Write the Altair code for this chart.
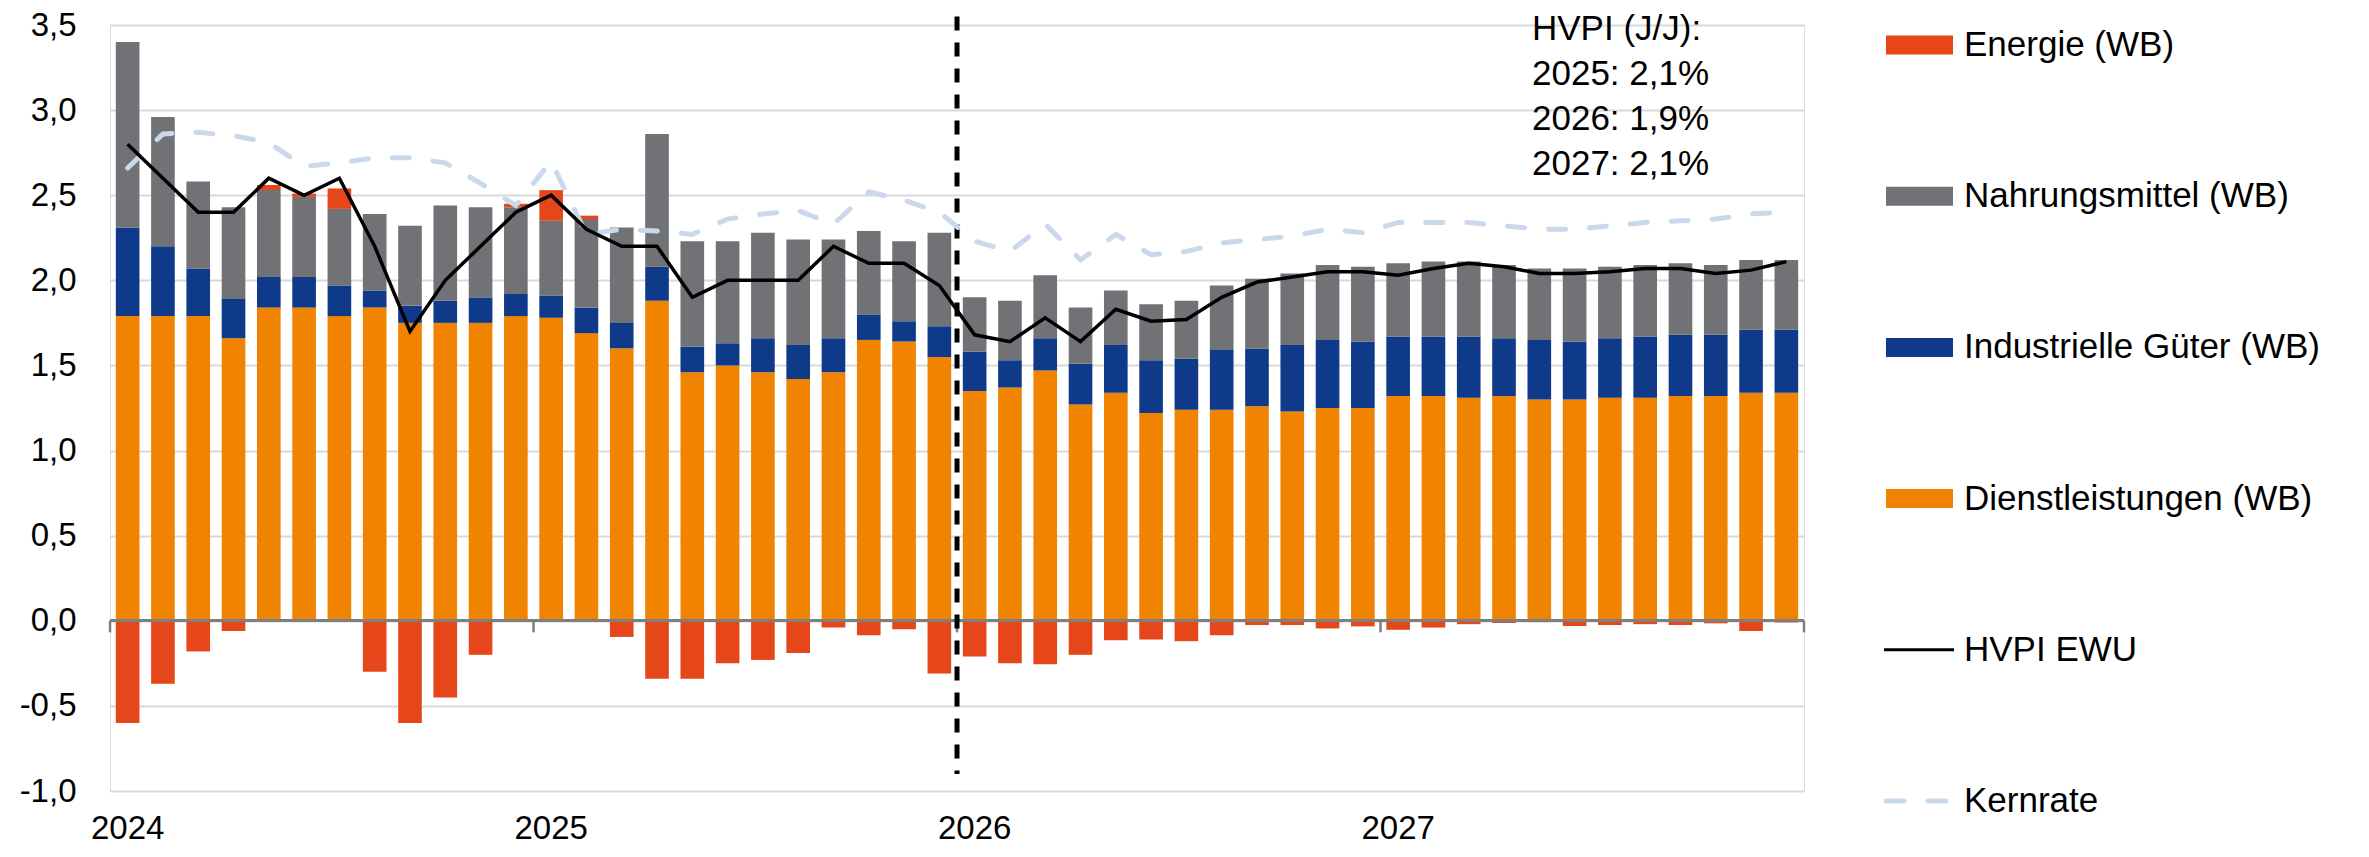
import altair as alt
import pandas as pd

FONT = "Liberation Sans"

# ---- data -----------------------------------------------------------------
months = [f"{y}-{m:02d}" for y in range(2024, 2028) for m in range(1, 13)]

dienstleistungen = [1.79, 1.79, 1.79, 1.66, 1.84, 1.84, 1.79, 1.84, 1.75, 1.75, 1.75, 1.79,
                    1.78, 1.69, 1.60, 1.88, 1.46, 1.50, 1.46, 1.42, 1.46, 1.65, 1.64, 1.55,
                    1.35, 1.37, 1.47, 1.27, 1.34, 1.22, 1.24, 1.24, 1.26, 1.23, 1.25, 1.25,
                    1.32, 1.32, 1.31, 1.32, 1.30, 1.30, 1.31, 1.31, 1.32, 1.32, 1.34, 1.34]
industrie = [0.52, 0.41, 0.28, 0.23, 0.18, 0.18, 0.18, 0.10, 0.10, 0.13, 0.15, 0.13,
             0.13, 0.15, 0.15, 0.20, 0.15, 0.13, 0.20, 0.20, 0.20, 0.15, 0.12, 0.18,
             0.23, 0.16, 0.19, 0.24, 0.28, 0.31, 0.30, 0.35, 0.34, 0.39, 0.40, 0.39,
             0.35, 0.35, 0.36, 0.34, 0.35, 0.34, 0.35, 0.36, 0.36, 0.36, 0.37, 0.37]
nahrung = [1.09, 0.76, 0.51, 0.54, 0.51, 0.47, 0.45, 0.45, 0.47, 0.56, 0.53, 0.51,
           0.44, 0.52, 0.56, 0.78, 0.62, 0.60, 0.62, 0.62, 0.58, 0.49, 0.47, 0.55,
           0.32, 0.35, 0.37, 0.33, 0.32, 0.33, 0.34, 0.38, 0.41, 0.42, 0.44, 0.44,
           0.43, 0.44, 0.44, 0.43, 0.42, 0.43, 0.42, 0.42, 0.42, 0.41, 0.41, 0.41]
energie = [-0.60, -0.37, -0.18, -0.06, 0.03, 0.02, 0.12, -0.30, -0.60, -0.45, -0.20, 0.02,
           0.18, 0.02, -0.095, -0.34, -0.34, -0.25, -0.23, -0.19, -0.04, -0.085, -0.05, -0.31,
           -0.21, -0.25, -0.255, -0.20, -0.115, -0.11, -0.12, -0.085, -0.025, -0.025, -0.045, -0.033,
           -0.053, -0.04, -0.02, -0.013, -0.008, -0.031, -0.025, -0.02, -0.025, -0.015, -0.06, -0.01]
hvpi = [2.8, 2.6, 2.4, 2.4, 2.6, 2.5, 2.6, 2.2, 1.7, 2.0, 2.2, 2.4,
        2.5, 2.3, 2.2, 2.2, 1.9, 2.0, 2.0, 2.0, 2.2, 2.1, 2.1, 1.97,
        1.68, 1.64, 1.78, 1.64, 1.83, 1.76, 1.77, 1.90, 1.99, 2.02, 2.05, 2.05,
        2.03, 2.07, 2.10, 2.08, 2.04, 2.04, 2.05, 2.07, 2.07, 2.04, 2.06, 2.11]
kernrate = [2.66, 2.86, 2.87, 2.85, 2.81, 2.67, 2.69, 2.72, 2.72, 2.69, 2.57, 2.44,
            2.70, 2.27, 2.30, 2.29, 2.27, 2.36, 2.39, 2.41, 2.33, 2.52, 2.47, 2.40,
            2.23, 2.17, 2.33, 2.12, 2.27, 2.15, 2.17, 2.22, 2.24, 2.26, 2.30, 2.28,
            2.34, 2.34, 2.34, 2.32, 2.30, 2.30, 2.32, 2.34, 2.35, 2.36, 2.39, 2.40]

bar_names = ["Energie (WB)", "Nahrungsmittel (WB)", "Industrielle Güter (WB)", "Dienstleistungen (WB)"]
bar_colors = ["#E5461A", "#717276", "#0F3A8A", "#F08300"]
line_names = ["HVPI EWU", "Kernrate"]
kern_color = "#C9D8EA"
forecast_start = "2026-01"
anno_lines = ["HVPI (J/J):", "2025: 2,1%", "2026: 1,9%", "2027: 2,1%"]
y_ticks = [-1.0, -0.5, 0.0, 0.5, 1.0, 1.5, 2.0, 2.5, 3.0, 3.5]

# ---- tables ---------------------------------------------------------------
series = {
    "Dienstleistungen (WB)": (dienstleistungen, 0),
    "Industrielle Güter (WB)": (industrie, 1),
    "Nahrungsmittel (WB)": (nahrung, 2),
    "Energie (WB)": (energie, 3),
}
rows = []
for name, (vals, ordv) in series.items():
    for m, v in zip(months, vals):
        rows.append({"month": m, "cat": name, "value": v, "ord": ordv})
bars_df = pd.DataFrame(rows)
lines_df = pd.DataFrame({"month": months, "hvpi": hvpi, "kern": kernrate})
year_df = pd.DataFrame({"month": [m for m in months if m.endswith("-01")]})
end_df = pd.DataFrame({"month": [months[-1]]})
fc_df = pd.DataFrame({"month": [forecast_start]})
anno_df = pd.DataFrame({"t": ["\n".join(anno_lines)]})
leg_df = pd.DataFrame({"name": bar_names + line_names})

# ---- scales ---------------------------------------------------------------
xs = alt.Scale(domain=months, paddingInner=0.33, paddingOuter=0.165)
ys = alt.Scale(domain=[-1.0, 3.5], nice=False, zero=False)
cs = alt.Scale(domain=bar_names, range=bar_colors)

x_axis = alt.Axis(
    labelExpr="substring(datum.value, 5, 7) == '01' ? substring(datum.value, 0, 4) : ''",
    labelAngle=0, ticks=False, tickSize=0, domain=False, grid=False,
    labelFontSize=33, labelBaseline="alphabetic", labelPadding=47,
    labelOverlap=False, labelColor="black", labelFont=FONT, title=None,
)
y_axis = alt.Axis(
    values=y_ticks,
    labelExpr="(datum.value < 0 ? '-' : '') + replace(format(abs(datum.value), '.1f'), '.', ',')",
    domain=False, ticks=False, grid=True, gridColor="#D9D9D9", gridWidth=2,
    labelFontSize=33, labelPadding=34, labelColor="black", labelFont=FONT, title=None,
)

X = alt.X("month:O", scale=xs, axis=x_axis, sort=months)

bars = alt.Chart(bars_df).mark_bar().encode(
    x=X,
    y=alt.Y("value:Q", stack="zero", scale=ys, axis=y_axis),
    color=alt.Color("cat:N", scale=cs, legend=None),
    order=alt.Order("ord:Q"),
)

zero = alt.Chart(bars_df).mark_rule(color="#7F7F7F", strokeWidth=2.5).encode(
    y=alt.datum(0, scale=ys)
)

year_ticks = alt.Chart(year_df).mark_rule(color="#7F7F7F", strokeWidth=2.5, xOffset=-5.8).encode(
    x=alt.X("month:O", scale=xs, bandPosition=0, sort=months),
    y=alt.datum(0),
    y2=alt.datum(-0.068),
)
end_tick = alt.Chart(end_df).mark_rule(color="#7F7F7F", strokeWidth=2.5, xOffset=5.8).encode(
    x=alt.X("month:O", scale=xs, bandPosition=1, sort=months),
    y=alt.datum(0),
    y2=alt.datum(-0.068),
)

fc_line = alt.Chart(fc_df).mark_rule(color="black", strokeWidth=5, strokeDash=[14, 12],
                                     xOffset=-5.8).encode(
    x=alt.X("month:O", scale=xs, bandPosition=0, sort=months),
    y=alt.datum(3.55),
    y2=alt.datum(-0.9),
)

kern_line = alt.Chart(lines_df).mark_line(color=kern_color, strokeWidth=5,
                                          strokeDash=[17, 24], strokeCap="round").encode(
    x=alt.X("month:O", scale=xs, sort=months),
    y=alt.Y("kern:Q", scale=ys),
)
hvpi_line = alt.Chart(lines_df).mark_line(color="black", strokeWidth=3.5).encode(
    x=alt.X("month:O", scale=xs, sort=months),
    y=alt.Y("hvpi:Q", scale=ys),
)

anno = alt.Chart(anno_df).mark_text(
    align="left", baseline="alphabetic", fontSize=35, lineHeight=45, lineBreak="\n",
    font=FONT, color="black",
).encode(x=alt.value(1422), y=alt.value(15), text="t:N")

main = alt.layer(bars, zero, year_ticks, end_tick, fc_line, kern_line, hvpi_line, anno)

# ---- legend ---------------------------------------------------------------
leg_y = alt.Y("name:N", scale=alt.Scale(type="point", domain=bar_names + line_names,
                                        range=[20, 776], padding=0), axis=None)
leg_rect = alt.Chart(leg_df).transform_filter(
    alt.FieldOneOfPredicate(field="name", oneOf=bar_names)
).mark_rule(strokeWidth=19, strokeCap="butt").encode(
    x=alt.value(1776), x2=alt.value(1843), y=leg_y,
    color=alt.Color("name:N", scale=cs, legend=None),
)
leg_hvpi = alt.Chart(leg_df).transform_filter(
    alt.FieldEqualPredicate(field="name", equal=line_names[0])
).mark_rule(color="black", strokeWidth=3).encode(
    x=alt.value(1774), x2=alt.value(1844), y=leg_y,
)
leg_kern = alt.Chart(leg_df).transform_filter(
    alt.FieldEqualPredicate(field="name", equal=line_names[1])
).mark_rule(color=kern_color, strokeWidth=5, strokeDash=[18, 24], strokeCap="round").encode(
    x=alt.value(1776), x2=alt.value(1846), y=leg_y,
)
leg_text = alt.Chart(leg_df).mark_text(
    align="left", baseline="middle", fontSize=35, font=FONT, color="black"
).encode(x=alt.value(1854), y=leg_y, text="name:N")

legend = alt.layer(leg_rect, leg_hvpi, leg_kern, leg_text)

chart = alt.layer(main, legend).resolve_scale(y="independent").properties(
    width=1694, height=766,
    padding={"left": 102, "top": 17, "right": 557, "bottom": 56},
    autosize=alt.AutoSizeParams(type="none"),
).configure_view(stroke=None).configure(font=FONT)

chart.save("out.html", embed_options={"renderer": "svg", "actions": False})
